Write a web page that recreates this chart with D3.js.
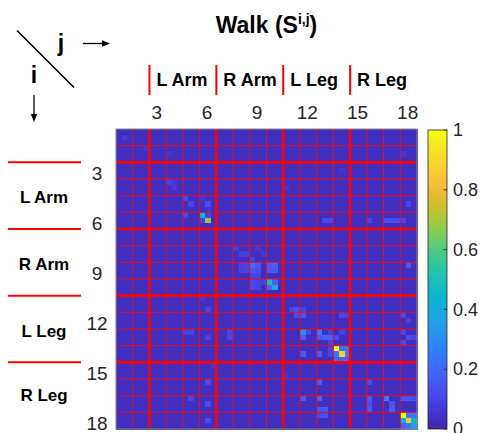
<!DOCTYPE html>
<html>
<head>
<meta charset="utf-8">
<script src="https://cdn.jsdelivr.net/npm/d3@7"></script>
<style>
  html, body { margin: 0; padding: 0; background: #fff; }
  svg { display: block; }
</style>
</head>
<body>
<svg id="chart" width="482" height="433"></svg>
<script>
// ---------------- DATA ----------------
const joints = d3.range(1, 19);                 // 18 joints per axis
const subPerJoint = 3;                           // each joint is a 3x3 block of entries
const tickLabels = [3, 6, 9, 12, 15, 18];
const groupNames = ["L Arm", "R Arm", "L Leg", "R Leg"];
const groupStarts = [2.5, 6.5, 10.5, 14.5];      // joint-boundary where each group begins
const colorbarTicks = [0, 0.2, 0.4, 0.6, 0.8, 1];
const baseValue = 0.03;                          // typical background similarity
// [row, col, value] in entry (sub-cell) indices
const highlights = [
  [1,1,0.07],[3,5,0.05],[4,9,0.05],[9,9,0.09],[10,10,0.07],[9,10,0.06],
  [12,12,0.11],[13,13,0.09],[13,16,0.11],[15,12,0.1],[12,15,0.06],[14,16,0.06],
  [15,15,0.45],[16,16,0.68],[15,16,0.09],[16,15,0.09],
  [16,37,0.11],[16,38,0.11],[16,45,0.1],[16,48,0.13],[16,49,0.13],[16,50,0.13],[16,51,0.1],
  [13,52,0.09],[24,52,0.14],[10,30,0.05],[4,51,0.06],[7,40,0.05],
  [21,21,0.07],[22,22,0.08],[22,23,0.08],[23,24,0.09],[21,25,0.06],[22,26,0.06],
  [24,22,0.09],[24,23,0.1],[25,22,0.09],[25,23,0.1],
  [24,24,0.2],[24,25,0.15],[25,24,0.15],[25,25,0.13],
  [24,27,0.16],[24,28,0.18],[25,27,0.15],[25,28,0.16],
  [27,24,0.11],[28,24,0.11],[27,25,0.1],[28,25,0.09],
  [27,27,0.48],[28,28,0.38],[27,28,0.18],[28,27,0.18],
  [32,31,0.11],[32,32,0.13],[33,32,0.11],[33,33,0.13],[32,33,0.09],
  [36,33,0.3],[36,36,0.24],[37,37,0.18],[37,38,0.18],[37,36,0.15],[36,34,0.11],[37,33,0.15],
  [40,33,0.15],[40,36,0.16],[45,36,0.15],[48,36,0.18],[48,33,0.15],
  [50,36,0.15],[50,37,0.15],[51,37,0.13],[51,36,0.11],
  [36,38,0.09],[37,39,0.11],[38,38,0.1],[36,40,0.09],[33,40,0.11],[33,41,0.09],
  [33,51,0.11],[34,52,0.09],[36,51,0.11],[37,52,0.13],[38,51,0.11],[37,53,0.1],
  [39,39,1.0],[40,40,0.86],[39,40,0.24],[40,39,0.24],[39,41,0.24],[40,41,0.26],
  [41,39,0.19],[41,40,0.19],[41,41,0.17],[39,38,0.1],[40,38,0.1],
  [48,48,0.28],[49,49,0.15],[50,49,0.15],[48,45,0.15],[49,45,0.13],[50,45,0.15],[45,45,0.11],
  [48,51,0.15],[48,52,0.15],[48,53,0.13],
  [51,51,1.0],[52,52,0.86],[52,51,0.42],[52,53,0.46],[51,52,0.24],[53,52,0.24],
  [53,53,0.34],[51,53,0.24],[53,51,0.19],
  [32,16,0.09],[37,16,0.09],[45,16,0.11],[49,16,0.11],[52,16,0.11],
  [36,12,0.09],[36,13,0.09],[36,20,0.1],[37,20,0.1],[48,13,0.09],
  [26,24,0.1],[26,25,0.1],[27,26,0.09],[30,15,0.06],[42,17,0.06],[44,30,0.06]
];
// parula colormap stops
const parulaStops = [
  [62,38,168],[69,55,213],[72,77,240],[69,99,253],[50,124,252],[43,145,239],
  [32,165,227],[8,181,208],[25,191,182],[55,200,151],[100,205,111],[157,201,67],
  [209,191,39],[248,186,61],[252,207,48],[245,227,39],[249,251,21]
];

// ---------------- BUILD MATRIX ----------------
const N = joints.length * subPerJoint;
const matrix = [];
for (let r = 0; r < N; r++) for (let c = 0; c < N; c++) matrix.push({r, c, v: baseValue});
highlights.forEach(([r, c, v]) => { matrix[r * N + c].v = v; });

// ---------------- LAYOUT ----------------
const svg = d3.select("#chart");
const font = "'Liberation Sans', Arial, Helvetica, sans-serif";
const plot = {x0: 116, x1: 417, y0: 129, y1: 429};
const x = d3.scaleLinear().domain([0.5, 18.5]).range([plot.x0, plot.x1]);
const y = d3.scaleLinear().domain([0.5, 18.5]).range([plot.y0, plot.y1]);
const stopDomain = parulaStops.map((_, i) => i / (parulaStops.length - 1));
const color = d3.scaleLinear().domain(stopDomain)
  .range(parulaStops.map(s => d3.rgb(s[0], s[1], s[2]).toString()))
  .clamp(true);

const sub = 1 / subPerJoint;
svg.append("g").attr("shape-rendering", "crispEdges")
  .selectAll("rect").data(matrix).join("rect")
  .attr("x", d => x(0.5 + d.c * sub))
  .attr("y", d => y(0.5 + d.r * sub))
  .attr("width", d => x(0.5 + (d.c + 1) * sub) - x(0.5 + d.c * sub) + 0.5)
  .attr("height", d => y(0.5 + (d.r + 1) * sub) - y(0.5 + d.r * sub) + 0.5)
  .attr("fill", d => color(d.v));

// red grid lines: thin at each joint boundary, thick at group boundaries
const bounds = d3.range(1.5, 18.5, 1);
const gridG = svg.append("g");
bounds.forEach(b => {
  const thick = groupStarts.includes(b);
  const sw = thick ? 2.6 : 1;
  const col = thick ? "#ff0000" : "#e0101c";
  gridG.append("line").attr("x1", x(b)).attr("x2", x(b)).attr("y1", plot.y0).attr("y2", plot.y1)
    .attr("stroke", col).attr("stroke-width", sw);
  gridG.append("line").attr("y1", y(b)).attr("y2", y(b)).attr("x1", plot.x0).attr("x2", plot.x1)
    .attr("stroke", col).attr("stroke-width", sw);
});

// axis box
svg.append("rect").attr("x", plot.x0).attr("y", plot.y0)
  .attr("width", plot.x1 - plot.x0).attr("height", plot.y1 - plot.y0)
  .attr("fill", "none").attr("stroke", "#888").attr("stroke-width", 1);

// top axis (j) and left axis (i) using d3 axes
const xAxis = d3.axisTop(x).tickValues(tickLabels).tickSize(0).tickPadding(0);
const gx = svg.append("g").attr("transform", `translate(-1.5,${plot.y0 - 10})`).call(xAxis);
gx.select(".domain").remove();
gx.selectAll("text").attr("font-family", font).attr("font-size", 19).attr("fill", "#262626");

const yAxis = d3.axisLeft(y).tickValues(tickLabels).tickSize(0).tickPadding(0);
const gy = svg.append("g").attr("transform", `translate(97,2.5)`).call(yAxis);
gy.select(".domain").remove();
gy.selectAll("text").attr("font-family", font).attr("font-size", 19).attr("fill", "#262626")
  .attr("text-anchor", "middle");

// group labels (top)
groupStarts.forEach((b, i) => {
  svg.append("line").attr("x1", x(b)).attr("x2", x(b)).attr("y1", 65).attr("y2", 95)
    .attr("stroke", "#ff0000").attr("stroke-width", 2);
  svg.append("text").attr("x", x(b) + 7).attr("y", 86)
    .attr("font-family", font).attr("font-weight", "bold").attr("font-size", 18)
    .attr("fill", "#000").text(groupNames[i]);
});
// group labels (left)
groupStarts.forEach((b, i) => {
  const next = i < groupStarts.length - 1 ? groupStarts[i + 1] : 18.5;
  svg.append("line").attr("x1", 8).attr("x2", 81).attr("y1", y(b)).attr("y2", y(b))
    .attr("stroke", "#ff0000").attr("stroke-width", 2);
  svg.append("text").attr("x", 44).attr("y", (y(b) + y(next)) / 2 + 7.5 - (i === 3 ? 2 : 0))
    .attr("text-anchor", "middle")
    .attr("font-family", font).attr("font-weight", "bold").attr("font-size", 17)
    .attr("fill", "#000").text(groupNames[i]);
});

// title
const title = svg.append("text").attr("x", 266.5).attr("y", 33)
  .attr("text-anchor", "middle").attr("font-family", font)
  .attr("font-weight", "bold").attr("font-size", 23).attr("fill", "#000");
title.append("tspan").text("Walk (S");
title.append("tspan").attr("dy", -9).attr("font-size", 14).text("i,j");
title.append("tspan").attr("dy", 9).text(")");

// corner i/j diagram
svg.append("line").attr("x1", 17).attr("y1", 30.5).attr("x2", 74).attr("y2", 87.5)
  .attr("stroke", "#000").attr("stroke-width", 1.6);
svg.append("text").attr("x", 61).attr("y", 51).attr("text-anchor", "middle")
  .attr("font-family", font).attr("font-weight", "bold").attr("font-size", 23).text("j");
svg.append("text").attr("x", 34).attr("y", 83).attr("text-anchor", "middle")
  .attr("font-family", font).attr("font-weight", "bold").attr("font-size", 23).text("i");
// arrows
svg.append("line").attr("x1", 83).attr("y1", 43.5).attr("x2", 104).attr("y2", 43.5)
  .attr("stroke", "#000").attr("stroke-width", 1.3);
svg.append("path").attr("d", "M110,43.5 L102,40.3 L102,46.7 Z").attr("fill", "#000");
svg.append("line").attr("x1", 34).attr("y1", 95).attr("x2", 34).attr("y2", 116)
  .attr("stroke", "#000").attr("stroke-width", 1.3);
svg.append("path").attr("d", "M34,122 L30.8,114 L37.2,114 Z").attr("fill", "#000");

// colorbar
const cb = {x: 428, w: 19, y0: 130, y1: 429};
const cy = d3.scaleLinear().domain([0, 1]).range([cb.y1, cb.y0]);
const defs = svg.append("defs");
const grad = defs.append("linearGradient").attr("id", "parula")
  .attr("x1", 0).attr("y1", 1).attr("x2", 0).attr("y2", 0);
d3.range(0, 1.0001, 0.02).forEach(t => {
  grad.append("stop").attr("offset", t).attr("stop-color", color(t));
});
svg.append("rect").attr("x", cb.x).attr("y", cb.y0).attr("width", cb.w)
  .attr("height", cb.y1 - cb.y0).attr("fill", "url(#parula)")
  .attr("stroke", "#262626").attr("stroke-width", 0.8);
const cbAxis = d3.axisRight(cy).tickValues(colorbarTicks).tickSize(0).tickPadding(0)
  .tickFormat(d => d === 0 ? "0" : d === 1 ? "1" : d3.format(".1f")(d));
const gcb = svg.append("g").attr("transform", `translate(${cb.x + cb.w + 6},0)`).call(cbAxis);
gcb.select(".domain").remove();
gcb.selectAll("text").attr("font-family", font).attr("font-size", 18).attr("fill", "#262626");
colorbarTicks.forEach(t => {
  svg.append("line").attr("x1", cb.x + cb.w - 3.5).attr("x2", cb.x + cb.w)
    .attr("y1", cy(t)).attr("y2", cy(t)).attr("stroke", "#262626").attr("stroke-width", 0.8);
});
</script>
</body>
</html>
